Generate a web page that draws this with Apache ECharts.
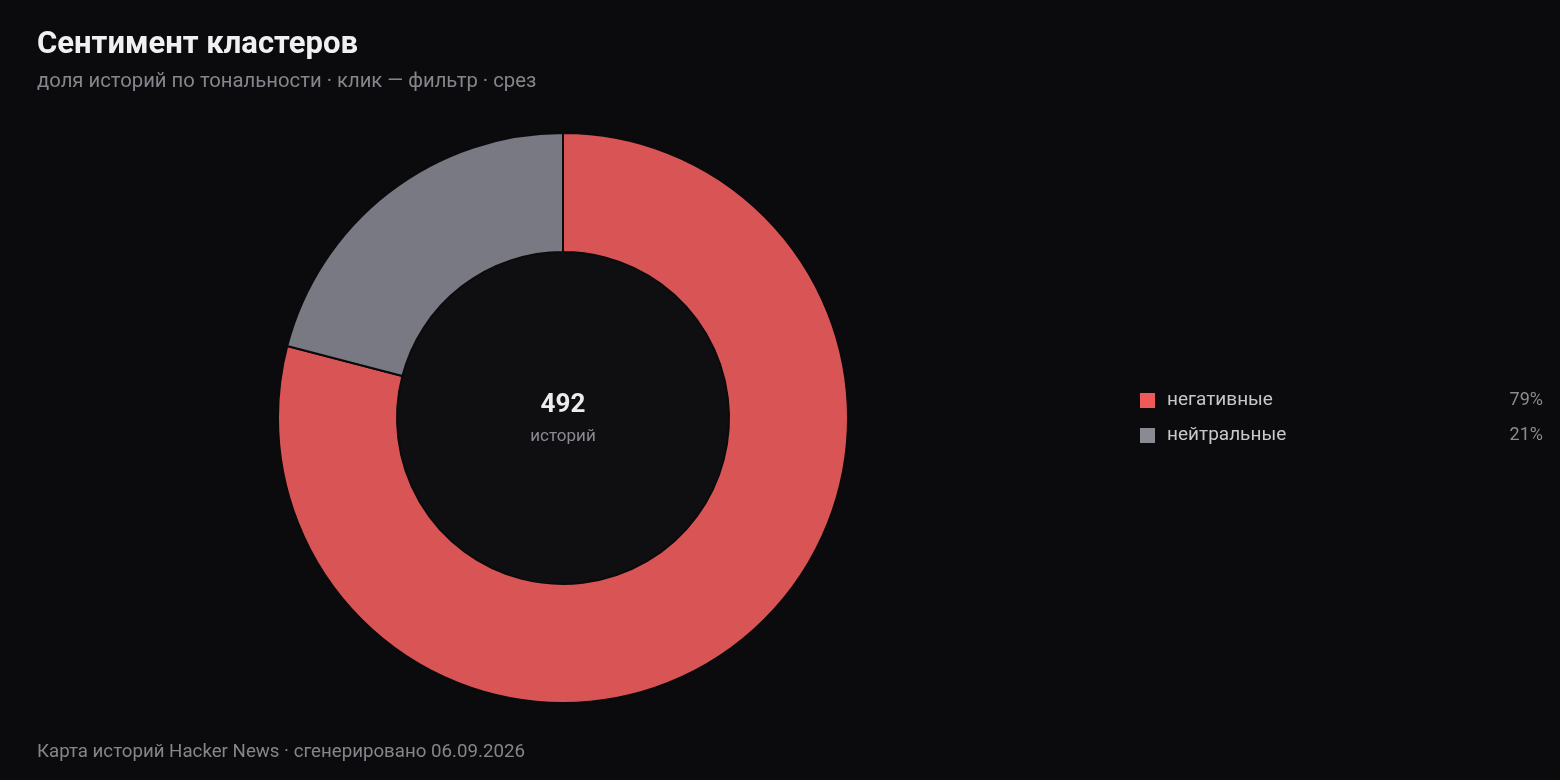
<!DOCTYPE html>
<html><head><meta charset="utf-8">
<script src="https://cdn.jsdelivr.net/npm/echarts@6/dist/echarts.min.js"></script>
<style>html,body{margin:0;padding:0;background:#0b0b0d;}#c{width:1560px;height:780px;}</style>
</head><body><div id="c"></div>
<script>
const categories = ['негативные', 'нейтральные'];
const values = [389, 103];
const colors = ['#d95555', '#797983'];
const legendColors = ['#ee5a5a', '#8a8a94'];
const titleText = 'Сентимент кластеров';
const subtitleText = 'доля историй по тональности · клик — фильтр · срез';
const footerText = 'Карта историй Hacker News · сгенерировано 06.09.2026';
const centerLabel = 'историй';

const total = values.reduce((a, b) => a + b, 0);
const pct = {};
categories.forEach((c, i) => pct[c] = Math.round(values[i] / total * 100) + '%');

const chart = echarts.init(document.getElementById('c'));
chart.setOption({
  backgroundColor: '#0b0b0d',
  textStyle: { fontFamily: 'Roboto' },
  title: [
    { text: titleText, left: 32, top: 25, textStyle: { color: '#f0f0f2', fontSize: 31, fontWeight: 'bold', fontFamily: 'Roboto' } },
    { text: subtitleText, left: 32, top: 67, textStyle: { color: '#85858d', fontSize: 20.3, fontWeight: 'normal', fontFamily: 'Roboto' } },
    { text: footerText, left: 32, top: 738, textStyle: { color: '#85858d', fontSize: 18.7, fontWeight: 'normal', fontFamily: 'Roboto' } },
    { text: String(total), left: 558, top: 387, textAlign: 'center', textStyle: { color: '#ececee', fontSize: 26, fontWeight: 'bold', fontFamily: 'Roboto' } },
    { text: centerLabel, left: 558, top: 423, textAlign: 'center', textStyle: { color: '#8a8a92', fontSize: 17, fontWeight: 'normal', fontFamily: 'Roboto' } }
  ],
  legend: {
    orient: 'vertical',
    left: 1133,
    top: 386,
    itemWidth: 17,
    itemHeight: 17,
    itemGap: 16,
    icon: 'rect',
    data: categories.map((c, i) => ({ name: c, itemStyle: { color: legendColors[i] } })),
    formatter: name => '{n|' + name + '}{p|' + pct[name] + '}',
    textStyle: {
      color: '#c8c8cc',
      fontSize: 19,
      rich: {
        n: { color: '#c8c8cc', fontSize: 19, width: 334, fontFamily: 'Roboto', padding: [0, 0, 0, 6] },
        p: { color: '#8a8a92', fontSize: 18, width: 42, align: 'right', fontFamily: 'Roboto' }
      }
    }
  },
  series: [
    {
      type: 'pie',
      silent: true,
      center: [563, 418],
      radius: [0, 166],
      label: { show: false },
      labelLine: { show: false },
      itemStyle: { color: '#0f0f12', borderColor: '#2a2a30', borderWidth: 1 },
      data: [{ value: 1, name: '_inner' }],
      tooltip: { show: false },
      z: 1
    },
    {
      type: 'pie',
      center: [563, 418],
      radius: [166, 285],
      startAngle: 90,
      clockwise: true,
      label: { show: false },
      labelLine: { show: false },
      itemStyle: { borderColor: '#0b0b0d', borderWidth: 2 },
      data: categories.map((c, i) => ({ name: c, value: values[i], itemStyle: { color: colors[i] } })),
      z: 2
    }
  ]
});
</script></body></html>
